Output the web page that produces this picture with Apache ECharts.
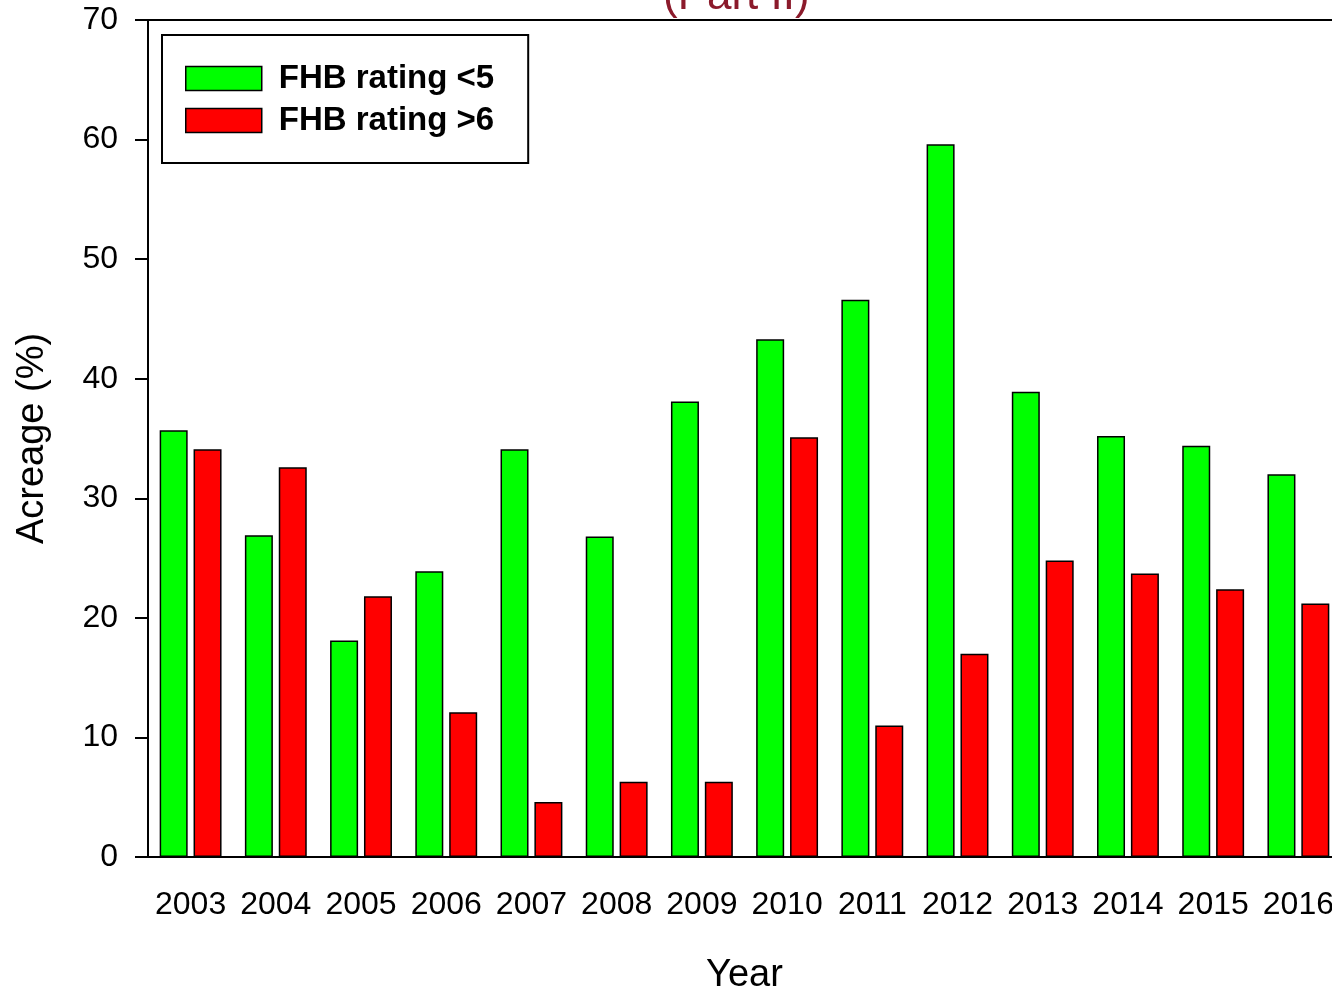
<!DOCTYPE html>
<html lang="en">
<head>
    <meta charset="UTF-8">
    <title>FHB rating acreage</title>
    <script src="https://cdn.jsdelivr.net/npm/echarts@6/dist/echarts.min.js"></script>
    <style>
        html, body { margin: 0; padding: 0; background: #fff; }
    </style>
</head>
<body>
<div id="main" style="width: 1332px;height:993px;"></div>
<script type="text/javascript">
    var years = ['2003', '2004', '2005', '2006', '2007', '2008', '2009',
                 '2010', '2011', '2012', '2013', '2014', '2015', '2016'];
    var ratingLow = [35.7, 26.9, 18.1, 23.9, 34.1, 26.8, 38.1, 43.3, 46.6, 59.6, 38.9, 35.2, 34.4, 32.0];
    var ratingHigh = [34.1, 32.6, 21.8, 12.1, 4.6, 6.3, 6.3, 35.1, 11.0, 17.0, 24.8, 23.7, 22.4, 21.2];
    var yTicks = [0, 10, 20, 30, 40, 50, 60, 70];

    var font = 'Liberation Sans, Arial, sans-serif';
    var myChart = echarts.init(document.getElementById('main'));

    myChart.setOption({
        animation: false,
        title: {
            text: '(Part II)',
            left: 658,
            top: -30,
            textStyle: {
                color: '#8b1a2b',
                fontFamily: font,
                fontSize: 44,
                fontWeight: 'normal'
            }
        },
        legend: {
            orient: 'vertical',
            left: 162,
            top: 35,
            padding: [27, 34, 26, 23],
            borderColor: '#000',
            borderWidth: 2,
            itemWidth: 76,
            itemHeight: 24,
            itemGap: 9,
            icon: 'rect',
            itemStyle: { borderColor: '#000', borderWidth: 1.5 },
            textStyle: {
                fontFamily: font,
                fontSize: 33,
                fontWeight: 'bold',
                color: '#000',
                padding: [2, 0, 0, 12]
            },
            data: ['FHB rating <5', 'FHB rating >6']
        },
        grid: {
            left: 148,
            top: 20,
            right: -9,
            bottom: 136,
            show: true,
            borderColor: '#000',
            borderWidth: 2,
            containLabel: false,
            outerBoundsMode: 'none'
        },
        xAxis: {
            type: 'category',
            data: years,
            name: 'Year',
            nameLocation: 'middle',
            nameGap: 100,
            nameTextStyle: { fontFamily: font, fontSize: 38, color: '#000' },
            axisLine: { lineStyle: { color: '#000', width: 2 } },
            axisTick: { alignWithLabel: true, length: 12, lineStyle: { color: '#000', width: 2 } },
            axisLabel: { fontFamily: font, fontSize: 32, color: '#000', margin: 32, interval: 0 },
            splitLine: { show: false }
        },
        yAxis: {
            type: 'value',
            min: 0,
            max: 70,
            interval: 10,
            name: 'Acreage (%)',
            nameLocation: 'middle',
            nameGap: 96,
            nameTextStyle: { fontFamily: font, fontSize: 38, color: '#000' },
            axisLine: { show: true, lineStyle: { color: '#000', width: 2 } },
            axisTick: { show: true, length: 13, lineStyle: { color: '#000', width: 2 } },
            axisLabel: {
                fontFamily: font, fontSize: 32, color: '#000', margin: 30,
                formatter: function (v) { return yTicks.indexOf(v) >= 0 ? String(v) : ''; }
            },
            splitLine: { show: false }
        },
        series: [{
            name: 'FHB rating <5',
            type: 'bar',
            data: ratingLow,
            barWidth: 28,
            barGap: '21%',
            itemStyle: { color: '#00ff00', borderColor: '#000', borderWidth: 1.5 }
        }, {
            name: 'FHB rating >6',
            type: 'bar',
            data: ratingHigh,
            barWidth: 28,
            barGap: '21%',
            itemStyle: { color: '#ff0000', borderColor: '#000', borderWidth: 1.5 }
        }]
    });
</script>
</body>
</html>
